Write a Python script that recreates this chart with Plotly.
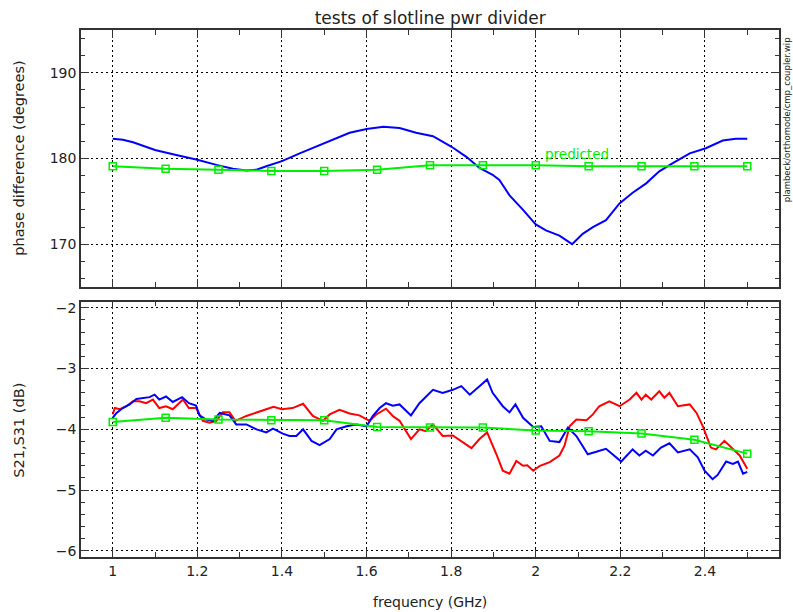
import plotly.graph_objects as go

# ---------------- data ----------------
phase_freq = [1.0, 1.024, 1.048, 1.1, 1.15, 1.2, 1.245, 1.284, 1.316, 1.34, 1.363, 1.4, 1.442, 1.48,
              1.52, 1.56, 1.6, 1.64, 1.67, 1.678, 1.717, 1.757, 1.8, 1.836, 1.867, 1.898, 1.914,
              1.938, 1.97, 2.0, 2.024, 2.056, 2.086, 2.111, 2.135, 2.166, 2.198, 2.229, 2.261,
              2.292, 2.324, 2.364, 2.402, 2.442, 2.473, 2.5]
phase_meas = [182.3, 182.2, 181.9, 181.0, 180.4, 179.85, 179.26, 178.8, 178.6, 178.7, 179.1, 179.7,
              180.6, 181.4, 182.2, 183.0, 183.45, 183.7, 183.6, 183.55, 183.0, 182.6, 181.4, 180.2,
              178.9, 178.1, 177.5, 175.7, 174.0, 172.3, 171.6, 171.0, 170.0, 171.2, 172.0, 172.8,
              174.75, 176.0, 177.1, 178.5, 179.45, 180.6, 181.2, 182.1, 182.3, 182.3]

pred_freq = [1.0, 1.125, 1.25, 1.375, 1.5, 1.625, 1.75, 1.875, 2.0, 2.125, 2.25, 2.375, 2.5]
phase_pred = [179.1, 178.8, 178.7, 178.55, 178.55, 178.7, 179.2, 179.2, 179.2, 179.1, 179.1, 179.1, 179.1]
s_pred = [-3.88, -3.81, -3.84, -3.85, -3.85, -3.96, -3.97, -3.97, -4.02, -4.03, -4.07, -4.17, -4.40]

red_freq = [1.0, 1.005, 1.017, 1.032, 1.048, 1.063, 1.079, 1.095, 1.11, 1.126, 1.142, 1.166, 1.18,
            1.197, 1.213, 1.229, 1.245, 1.26, 1.276, 1.29, 1.316, 1.34, 1.363, 1.38, 1.40, 1.425,
            1.45, 1.473, 1.497, 1.513, 1.536, 1.56, 1.583, 1.607, 1.623, 1.646, 1.662, 1.678,
            1.705, 1.725, 1.74, 1.757, 1.78, 1.804, 1.828, 1.848, 1.867, 1.885, 1.907, 1.922,
            1.938, 1.954, 1.97, 1.98, 1.994, 2.01, 2.033, 2.056, 2.068, 2.08, 2.096, 2.12, 2.135,
            2.15, 2.174, 2.198, 2.222, 2.238, 2.25, 2.26, 2.273, 2.292, 2.304, 2.316, 2.336,
            2.364, 2.38, 2.395, 2.414, 2.426, 2.446, 2.462, 2.482, 2.5]
red_s21 = [-3.755, -3.65, -3.67, -3.62, -3.54, -3.54, -3.57, -3.51, -3.65, -3.62, -3.67, -3.51, -3.65,
           -3.65, -3.86, -3.89, -3.86, -3.72, -3.72, -3.86, -3.78, -3.73, -3.67, -3.63, -3.67, -3.65,
           -3.58, -3.78, -3.86, -3.755, -3.68, -3.74, -3.77, -3.86, -3.755, -3.66, -3.78, -3.86,
           -4.16, -4.0, -4.03, -3.92, -4.11, -4.10, -4.22, -4.31, -4.16, -4.05, -4.41, -4.68,
           -4.73, -4.52, -4.60, -4.59, -4.68, -4.60, -4.54, -4.43, -4.27, -3.95, -3.84, -3.85, -3.755,
           -3.62, -3.54, -3.62, -3.51, -3.40, -3.51, -3.43, -3.51, -3.375, -3.48, -3.40, -3.62,
           -3.59, -3.73, -3.95, -4.30, -4.33, -4.19, -4.30, -4.43, -4.65]

blue_freq = [1.0, 1.009, 1.024, 1.04, 1.056, 1.071, 1.087, 1.099, 1.11, 1.126, 1.142, 1.164, 1.18,
             1.197, 1.205, 1.221, 1.237, 1.253, 1.276, 1.292, 1.316, 1.34, 1.363, 1.379, 1.402,
             1.418, 1.434, 1.45, 1.47, 1.489, 1.513, 1.529, 1.553, 1.576, 1.6, 1.615, 1.631,
             1.646, 1.662, 1.678, 1.705, 1.725, 1.757, 1.78, 1.804, 1.824, 1.844, 1.867, 1.885,
             1.898, 1.922, 1.938, 1.952, 1.97, 1.994, 2.013, 2.033, 2.056, 2.076, 2.096, 2.123,
             2.143, 2.166, 2.202, 2.229, 2.245, 2.26, 2.277, 2.296, 2.316, 2.336, 2.364, 2.383,
             2.399, 2.418, 2.43, 2.45, 2.466, 2.478, 2.49, 2.5]
blue_s31 = [-3.81, -3.73, -3.65, -3.59, -3.50, -3.48, -3.47, -3.43, -3.51, -3.46, -3.55, -3.47, -3.57,
            -3.61, -3.77, -3.84, -3.86, -3.73, -3.77, -3.92, -3.92, -4.0, -4.05, -3.99, -4.07,
            -4.11, -4.11, -4.0, -4.19, -4.26, -4.16, -4.0, -3.95, -3.92, -3.95, -3.78, -3.65,
            -3.57, -3.61, -3.59, -3.77, -3.57, -3.35, -3.40, -3.35, -3.29, -3.43, -3.29, -3.18,
            -3.40, -3.62, -3.72, -3.59, -3.81, -3.96, -3.95, -4.19, -4.21, -3.97, -4.11, -4.41,
            -4.37, -4.32, -4.53, -4.33, -4.43, -4.35, -4.43, -4.30, -4.23, -4.38, -4.33, -4.46,
            -4.68, -4.82, -4.75, -4.53, -4.57, -4.53, -4.73, -4.70]

x_ticks = [1, 1.2, 1.4, 1.6, 1.8, 2, 2.2, 2.4]
x_tick_labels = ["1", "1.2", "1.4", "1.6", "1.8", "2", "2.2", "2.4"]
phase_ticks = [170, 180, 190]
s_ticks = [-6, -5, -4, -3, -2]
s_tick_labels = ["\u22126", "\u22125", "\u22124", "\u22123", "\u22122"]

# ---------------- figure ----------------
BLUE = "#0000ff"
RED = "#ff0000"
GREEN = "#00ee00"
FONT = "DejaVu Sans"
TXT = "#222222"

fig = go.Figure()
fig.add_trace(go.Scatter(x=phase_freq, y=phase_meas, mode="lines",
                         line=dict(color=BLUE, width=2), xaxis="x", yaxis="y"))
fig.add_trace(go.Scatter(x=pred_freq, y=phase_pred, mode="lines+markers",
                         line=dict(color=GREEN, width=2),
                         marker=dict(symbol="square-open", size=7, color=GREEN, line=dict(width=1.5)),
                         xaxis="x", yaxis="y"))
fig.add_trace(go.Scatter(x=red_freq, y=red_s21, mode="lines",
                         line=dict(color=RED, width=2), xaxis="x2", yaxis="y2"))
fig.add_trace(go.Scatter(x=blue_freq, y=blue_s31, mode="lines",
                         line=dict(color=BLUE, width=2), xaxis="x2", yaxis="y2"))
fig.add_trace(go.Scatter(x=pred_freq, y=s_pred, mode="lines+markers",
                         line=dict(color=GREEN, width=2),
                         marker=dict(symbol="square-open", size=7, color=GREEN, line=dict(width=1.5)),
                         xaxis="x2", yaxis="y2"))

axis_common = dict(showline=True, linecolor="#333333", linewidth=1.5, mirror="ticks",
                   ticks="inside", ticklen=8, tickcolor="#333333", tickwidth=1,
                   showgrid=True, gridcolor="#000000", gridwidth=1, griddash="2px,3px",
                   zeroline=False, tickfont=dict(family=FONT, size=14, color=TXT))

fig.update_layout(
    width=793, height=612, autosize=False,
    margin=dict(l=81, r=14, t=30, b=55),
    paper_bgcolor="white", plot_bgcolor="white",
    showlegend=False,
    font=dict(family=FONT, color=TXT),
    title=dict(text="tests of slotline pwr divider", x=0.5425, xanchor="center", y=0.971,
               yanchor="middle", font=dict(family=FONT, size=17, color=TXT)),
    xaxis=dict(axis_common, domain=[0, 1], range=[0.925, 2.575], tickvals=x_ticks,
               showticklabels=False, anchor="y",
               minor=dict(ticks="inside", ticklen=5, dtick=0.1, tick0=0, tickcolor="#333333",
                          showgrid=False)),
    yaxis=dict(axis_common, domain=[0.5123, 1], range=[165, 195], tickvals=phase_ticks,
               anchor="x",
               minor=dict(ticks="inside", ticklen=4, dtick=2, tick0=0, tickcolor="#333333",
                          showgrid=False)),
    xaxis2=dict(axis_common, domain=[0, 1], range=[0.925, 2.575], tickvals=x_ticks,
                ticktext=x_tick_labels, anchor="y2",
                minor=dict(ticks="inside", ticklen=5, dtick=0.1, tick0=0, tickcolor="#333333",
                           showgrid=False)),
    yaxis2=dict(axis_common, domain=[0, 0.4845], range=[-6.1, -1.9], tickvals=s_ticks,
                ticktext=s_tick_labels, anchor="x2",
                minor=dict(ticks="inside", ticklen=4, dtick=0.2, tick0=0, tickcolor="#333333",
                           showgrid=False)),
)

fig.add_annotation(text="phase difference (degrees)", xref="paper", yref="paper",
                   x=-0.09, y=0.756, textangle=-90, showarrow=False, xanchor="center",
                   yanchor="middle", font=dict(family=FONT, size=14.5, color=TXT))
fig.add_annotation(text="S21,S31 (dB)", xref="paper", yref="paper",
                   x=-0.09, y=0.24, textangle=-90, showarrow=False, xanchor="center",
                   yanchor="middle", font=dict(family=FONT, size=14.5, color=TXT))
fig.add_annotation(text="frequency (GHz)", xref="paper", yref="paper",
                   x=0.5, y=-0.085, showarrow=False, xanchor="center", yanchor="middle",
                   font=dict(family=FONT, size=14, color=TXT))
fig.add_annotation(text="plambeck/orthomode/cmp_coupler.wip", xref="paper", yref="paper",
                   x=1.011, y=0.83, textangle=-90, showarrow=False, xanchor="center",
                   yanchor="middle", font=dict(family=FONT, size=8.5, color=TXT))
fig.add_annotation(text="predicted", xref="x", yref="y", x=2.098, y=180.5,
                   showarrow=False, xanchor="center", yanchor="middle",
                   font=dict(family=FONT, size=13.5, color=GREEN))

fig.write_html("out.html", config={"displayModeBar": False},
               post_script="document.body.style.margin='0';document.body.style.overflow='hidden';")
